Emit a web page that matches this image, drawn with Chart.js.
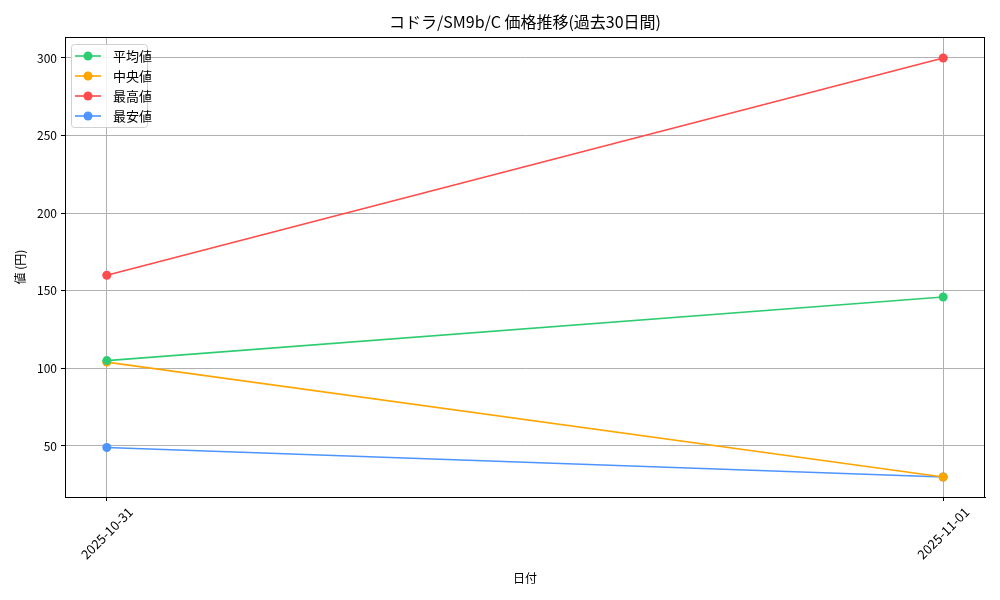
<!DOCTYPE html>
<html><head><meta charset="utf-8">
<script src="https://cdn.jsdelivr.net/npm/chart.js@4"></script>
<style>html,body{margin:0;padding:0;background:#fff}#w{width:1000px;height:600px}</style>
</head><body><div id="w"><canvas id="c"></canvas></div>
<script>
const dates = ['2025-10-31', '2025-11-01'];
const avgValues = [105, 146];
const medianValues = [104, 30];
const maxValues = [160, 300];
const minValues = [49, 30];
const seriesNames = ['平均値', '中央値', '最高値', '最安値'];
const seriesColors = ['#2ecc71', '#ffa500', '#ff4b4b', '#4d94ff'];
const yTicks = [50, 100, 150, 200, 250, 300];
const titleText = 'コドラ/SM9b/C 価格推移(過去30日間)';
const FONT = "'Noto Sans CJK JP', 'DejaVu Sans', sans-serif";

function pts(vals){ return vals.map((v,i)=>({x:i,y:v})); }
const allSeries = [avgValues, medianValues, maxValues, minValues];
const datasets = allSeries.map((vals,i)=>({
  label: seriesNames[i], data: pts(vals),
  borderColor: seriesColors[i], backgroundColor: seriesColors[i],
  borderWidth: 1.6, pointRadius: 4.5, pointHoverRadius: 4.5, pointBorderWidth: 0, tension: 0
}));

const decor = {
  id: 'decor',
  afterDraw(chart){
    const ctx = chart.ctx, a = chart.chartArea;
    ctx.save();
    // frame
    ctx.strokeStyle = '#000'; ctx.lineWidth = 1;
    ctx.strokeRect(Math.round(a.left)+0.5, Math.round(a.top)+0.5, Math.round(a.right-a.left)-1, Math.round(a.bottom-a.top));
    // title centered over the plot area
    ctx.fillStyle = '#000'; ctx.font = '16px ' + FONT;
    ctx.textAlign = 'center'; ctx.textBaseline = 'middle';
    ctx.fillText(titleText, (a.left + a.right)/2, 22);
    // rotated x tick labels, bbox centered on tick
    const xs = chart.scales.x;
    ctx.font = '13px ' + FONT;
    dates.forEach((d,i)=>{
      const px = xs.getPixelForValue(i);
      const w = ctx.measureText(d).width, h = 13;
      const bh = (w + h) * Math.SQRT1_2;
      ctx.save();
      ctx.translate(px, a.bottom + 8 + bh/2);
      ctx.rotate(-Math.PI/4);
      ctx.textAlign = 'center'; ctx.textBaseline = 'middle';
      ctx.fillText(d, 0, 0);
      ctx.restore();
    });
    ctx.restore();
  },
  afterDatasetsDraw(chart){
    const ctx = chart.ctx, a = chart.chartArea;
    const x0 = a.left + 6, y0 = a.top + 7, w = 76, h = 83;
    ctx.save();
    ctx.fillStyle = 'rgba(255,255,255,0.85)';
    ctx.strokeStyle = '#d0d0d0'; ctx.lineWidth = 1;
    ctx.beginPath();
    if (ctx.roundRect) ctx.roundRect(x0+0.5, y0+0.5, w, h, 3); else ctx.rect(x0+0.5,y0+0.5,w,h);
    ctx.fill(); ctx.stroke();
    chart.data.datasets.forEach((ds,i)=>{
      const yy = y0 + 12 + i*20;
      ctx.strokeStyle = ds.borderColor; ctx.lineWidth = 1.6;
      ctx.beginPath(); ctx.moveTo(x0+4, yy); ctx.lineTo(x0+30, yy); ctx.stroke();
      ctx.fillStyle = ds.borderColor;
      ctx.beginPath(); ctx.arc(x0+17, yy, 4.5, 0, Math.PI*2); ctx.fill();
      ctx.fillStyle = '#000'; ctx.font = '13px ' + FONT; ctx.textBaseline = 'middle';
      ctx.fillText(ds.label, x0+42, yy);
    });
    ctx.restore();
  }
};

new Chart(document.getElementById('c'), {
  type: 'line',
  data: { datasets },
  plugins: [decor],
  options: {
    responsive: true, maintainAspectRatio: false, animation: false,
    layout: { padding: { left: 0, right: 15, top: 37, bottom: 0 } },
    plugins: { legend: { display: false }, tooltip: { enabled: false }, title: { display: false } },
    scales: {
      x: {
        type: 'linear', min: -0.05, max: 1.05,
        afterBuildTicks: s => { s.ticks = dates.map((d,i)=>({value:i})); },
        afterFit: s => { s.height = 103; },
        ticks: { callback: (v) => dates[v] ?? '', maxRotation: 0, minRotation: 0, color: 'rgba(0,0,0,0)',
          font: { family: FONT, size: 12 }, padding: 2, autoSkip: false },
        grid: { color: '#b0b0b0', lineWidth: 1, tickLength: 4, tickColor: '#000', drawOnChartArea: true },
        border: { color: '#000', width: 1 },
        title: { display: true, text: '日付', color: '#000', font: { family: FONT, size: 12 }, padding: { top: 0, bottom: 14 } }
      },
      y: {
        min: 17.1, max: 313.5,
        afterBuildTicks: s => { s.ticks = yTicks.map(v=>({value:v})); },
        afterFit: s => { s.width = 65; },
        ticks: { color: '#000', font: { family: FONT, size: 12 }, padding: 4 },
        grid: { color: '#b0b0b0', lineWidth: 1, tickLength: 4, tickColor: '#000' },
        border: { color: '#000', width: 1 },
        title: { display: true, text: '値 (円)', color: '#000', font: { family: FONT, size: 12 }, padding: { top: 13, bottom: 0 } }
      }
    }
  },
});
</script></body></html>
